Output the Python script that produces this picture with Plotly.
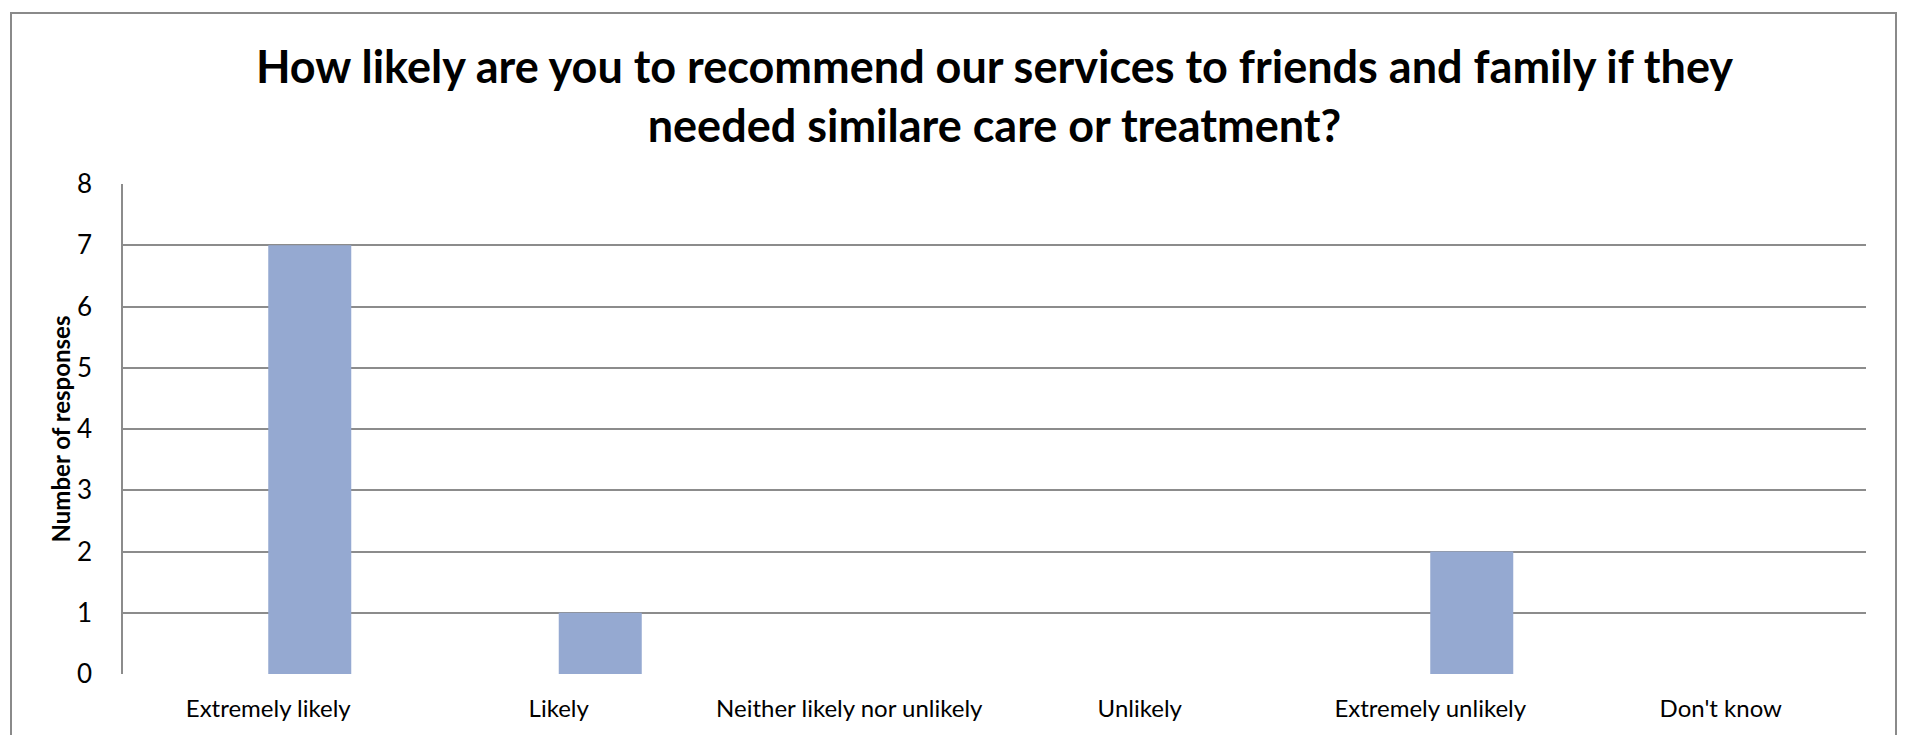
import plotly.graph_objects as go

categories = ["Extremely likely", "Likely", "Neither likely nor unlikely",
              "Unlikely", "Extremely unlikely", "Don't know"]
responses = [7, 1, 0, 0, 2, 0]
y_ticks = [0, 1, 2, 3, 4, 5, 6, 7, 8]

# page body has an 8px margin; figure coordinates = screen - 8
W, H = 1905, 735
ml, mr, mt, mb = 115, 47, 176, 69
pw, ph = W - ml - mr, H - mt - mb

FONT = "Lato"
GRID = "#8c8c8c"

fig = go.Figure()
fig.add_trace(go.Bar(
    x=categories, y=responses,
    marker=dict(color="#95a9d1", line=dict(width=0)),
    width=0.2857, offset=0,
    hoverinfo="x+y",
))

fig.update_layout(
    width=W, height=H,
    margin=dict(l=ml, r=mr, t=mt, b=mb),
    paper_bgcolor="white", plot_bgcolor="white",
    showlegend=False,
    font=dict(family=FONT, color="black"),
    title=dict(
        text="<b>How likely are you to recommend our services to friends and family if they<br>needed similare care or treatment?</b>",
        x=0.5, xanchor="center", xref="paper",
        y=1 - 75 / H, yanchor="top",
        font=dict(family=FONT, size=45, color="black"),
    ),
    xaxis=dict(
        type="category", range=[-0.5, 5.5],
        showgrid=False, showline=False, zeroline=False,
        ticks="", tickfont=dict(family=FONT, size=24),
        ticklabelstandoff=18,
    ),
    yaxis=dict(
        range=[0, 8], tickvals=y_ticks,
        showgrid=True, gridcolor=GRID, gridwidth=1.5,
        showline=True, linecolor=GRID, linewidth=1.5,
        zeroline=False, ticks="",
        tickfont=dict(family=FONT, size=26),
        ticklabelstandoff=24,
        title=dict(text="<b>Number of responses</b>", font=dict(family=FONT, size=24), standoff=0),
    ),
    shapes=[
        dict(type="rect", xref="paper", yref="paper",
             x0=(3 - ml) / pw, x1=(1888 - ml) / pw,
             y0=(H - mb - 760) / ph, y1=(H - mb - 5) / ph,
             line=dict(color="#8a8a8a", width=2), fillcolor="rgba(0,0,0,0)", layer="below"),
    ],
)

fig.write_html("out.html")
